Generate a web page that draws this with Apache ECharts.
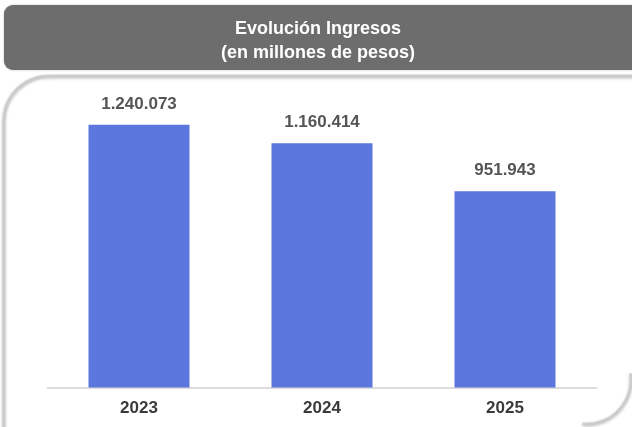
<!DOCTYPE html>
<html>
<head>
<meta charset="utf-8">
<script src="https://cdn.jsdelivr.net/npm/echarts@6/dist/echarts.min.js"></script>
<style>
html,body{margin:0;padding:0;background:#fff;}
#chart{width:632px;height:427px;}
</style>
</head>
<body>
<div id="chart"></div>
<script>
const titleLines = ['Evolución Ingresos', '(en millones de pesos)'];
const years = ['2023', '2024', '2025'];
const ingresos = [1240073, 1160414, 951943];

function fmt(v) {
  return String(v).replace(/\B(?=(\d{3})+(?!\d))/g, '.');
}

const chart = echarts.init(document.getElementById('chart'));
chart.setOption({
  animation: false,
  backgroundColor: '#ffffff',
  graphic: [
    {
      type: 'rect', z: 0,
      shape: { x: 4, y: 76, width: 640, height: 360, r: [45, 0, 0, 0] },
      style: { fill: '#ffffff', stroke: '#cccccc', lineWidth: 2.5, shadowBlur: 3, shadowColor: 'rgba(0,0,0,0.3)', shadowOffsetY: 1 }
    },
    {
      type: 'arc', z: 1,
      shape: { cx: 587, cy: 380, r: 44, startAngle: -0.15, endAngle: Math.PI / 2 + 0.1, clockwise: true },
      style: { fill: null, stroke: '#cccccc', lineWidth: 2.5, shadowBlur: 3, shadowColor: 'rgba(0,0,0,0.3)', shadowOffsetY: 1 }
    },
    {
      type: 'rect', z: 0,
      shape: { x: 4, y: 5, width: 640, height: 65, r: 9 },
      style: { fill: '#6d6d6d', shadowBlur: 2, shadowColor: 'rgba(0,0,0,0.3)' }
    },
    {
      type: 'text', z: 1,
      style: {
        x: 318, y: 41, text: titleLines.join('\n'), fill: '#ffffff',
        font: 'bold 18px "Liberation Sans", Arial, sans-serif',
        align: 'center', verticalAlign: 'middle', lineHeight: 24
      }
    }
  ],
  grid: { left: 47.5, right: 35.5, top: 88, bottom: 39.5, containLabel: false },
  xAxis: {
    type: 'category',
    data: years,
    axisLine: { show: true, lineStyle: { color: '#dcdcdc', width: 2 } },
    axisTick: { show: false },
    axisLabel: { margin: 12, color: '#3a3a3a', fontSize: 17, fontWeight: 'bold', fontFamily: '"Liberation Sans", Arial, sans-serif' }
  },
  yAxis: {
    type: 'value', min: 100000, max: 1400000,
    show: false, splitLine: { show: false }
  },
  series: [{
    type: 'bar',
    data: ingresos,
    barWidth: 101,
    itemStyle: { color: '#5b76dd' },
    label: {
      show: true, position: 'top', distance: 12,
      color: '#555555', fontSize: 17, fontWeight: 'bold',
      fontFamily: '"Liberation Sans", Arial, sans-serif',
      formatter: p => fmt(p.value)
    }
  }]
});
</script>
</body>
</html>
